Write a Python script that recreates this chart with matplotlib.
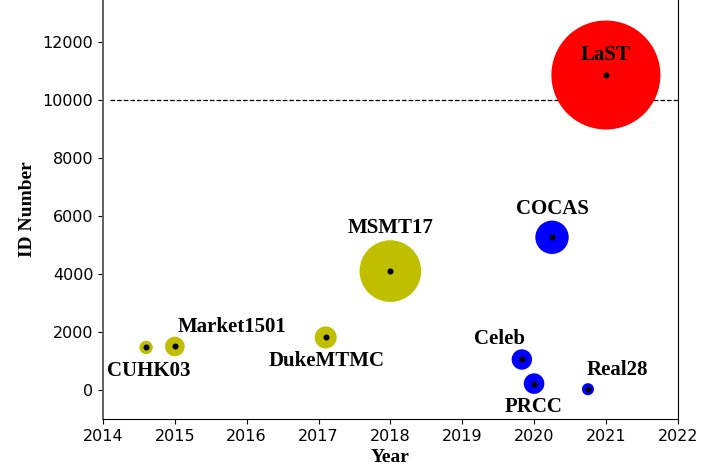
import matplotlib
matplotlib.use("Agg")
import matplotlib.pyplot as plt

# datasets: release year, number of identities, bubble area (pt^2)
names = ["CUHK03", "Market1501", "DukeMTMC", "MSMT17", "Celeb", "PRCC", "COCAS", "Real28", "LaST"]
years = [2014.6, 2015.0, 2017.1, 2018.0, 2019.83, 2020.0, 2020.25, 2020.75, 2021.0]
ids = [1467, 1501, 1812, 4101, 1052, 221, 5266, 28, 10862]
bubble = [93, 199, 251, 1967, 216, 220, 578, 75, 6159]
colors = ["y", "y", "y", "y", "b", "b", "b", "b", "r"]

# label offsets in pixels (dx right, dy up)
label_off = [(3, -24), (57, 19), (1, -24), (0, 43), (-22, 20), (0, -23), (0, 28), (29, 19), (0, 20)]

fig = plt.figure(figsize=(7.04, 4.70), dpi=100)
ax = fig.add_axes([0.1463, 0.1085, 0.8164, 0.8947])

ax.scatter(years, ids, s=bubble, c=colors, linewidths=0, zorder=2)
ax.scatter(years, ids, s=19, c="k", linewidths=0, zorder=3)
ax.hlines(10000, 2014.1, 2022, colors="k", linestyles="--", linewidth=0.9, zorder=1)

for name, x, y, off in zip(names, years, ids, label_off):
    ax.annotate(name, (x, y), xytext=off, textcoords="offset pixels",
                ha="center", va="center", fontsize=15, fontweight="bold",
                family="Liberation Serif", zorder=4)

ax.set_xlim(2014, 2022)
ax.set_ylim(-1000, 13500)
ax.set_xticks(range(2014, 2023))
ax.set_yticks(range(0, 12001, 2000))
ax.tick_params(labelsize=11.5)

ax.spines["top"].set_visible(False)
ax.spines["left"].set_color("#606060")
ax.spines["left"].set_linewidth(1.4)

ax.set_xlabel("Year", fontsize=14, fontweight="bold", family="Liberation Serif", labelpad=4)
ax.set_ylabel("ID Number", fontsize=14, fontweight="bold", family="Liberation Serif", labelpad=5)

fig.savefig("out.png", dpi=100)
